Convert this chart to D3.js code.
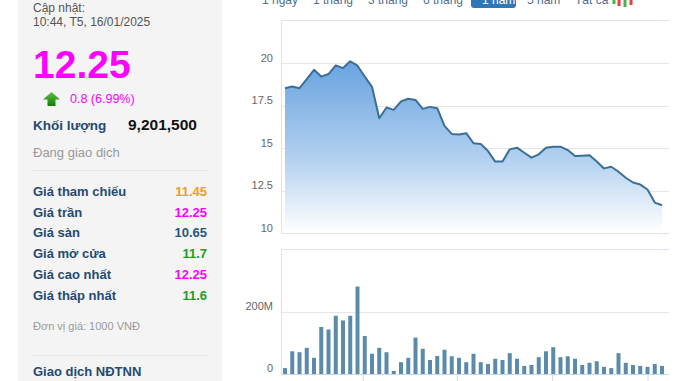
<!DOCTYPE html>
<html>
<head>
<meta charset="utf-8">
<script src="https://cdn.jsdelivr.net/npm/d3@7"></script>
<style>
    body { margin: 0; background: #fff; font-family: Arial, "Liberation Sans", sans-serif; }
    svg { display: block; }
</style>
</head>
<body>
<div id="chart"></div>
<script>
// weekly close price (1000 VND) and weekly volume (millions of shares), one year
const firstWeek = "2024-01-17";
const closePrices = [
    18.52, 18.62, 18.52, 19.05, 19.6, 19.2, 19.35, 19.86, 19.7, 20.1,
    19.84, 19.2, 18.6, 16.75, 17.38, 17.24, 17.74, 17.9, 17.83, 17.3,
    17.42, 17.34, 16.3, 15.83, 15.8, 15.87, 15.28, 15.24, 14.82, 14.2,
    14.2, 14.92, 15.02, 14.72, 14.43, 14.63, 15.02, 15.08, 15.08, 14.88,
    14.53, 14.55, 14.57, 14.2, 13.8, 13.9, 13.6, 13.25, 12.97, 12.85,
    12.56, 11.79, 11.63
];
const volumes = [
    19, 73, 70, 84, 52, 151, 143, 187, 172, 187,
    281, 122, 65, 84, 70, 10, 38, 52, 117, 81,
    45, 58, 78, 57, 52, 38, 65, 38, 32, 49,
    45, 67, 49, 26, 29, 54, 73, 86, 54, 57,
    49, 29, 36, 41, 23, 19, 67, 36, 29, 26,
    23, 32, 26
];
const priceTicks = [10, 12.5, 15, 17.5, 20];
const volumeTicks = [0, 200];
const quarterTicks = ["2024-04-01", "2024-07-01", "2024-10-01", "2025-01-01"];
const rangeTabs = ["1 ngày", "1 tháng", "3 tháng", "6 tháng", "1 năm", "5 năm", "Tất cả"];
const activeTab = "1 năm";

// quote panel
const updateLabel = "Cập nhật:";
const updateTime = "10:44, T5, 16/01/2025";
const lastPrice = "12.25";
const priceChange = "0.8 (6.99%)";
const volumeLabel = "Khối lượng";
const totalVolume = "9,201,500";
const statusText = "Đang giao dịch";
const quoteLabels = ["Giá tham chiếu", "Giá trần", "Giá sàn", "Giá mở cửa", "Giá cao nhất", "Giá thấp nhất"];
const quoteValues = ["11.45", "12.25", "10.65", "11.7", "12.25", "11.6"];
const quoteColors = ["#f39a24", "#ff00ff", "#1d5a80", "#1f9e1a", "#ff00ff", "#1f9e1a"];
const unitText = "Đơn vị giá: 1000 VNĐ";
const foreignText = "Giao dịch NĐTNN";

const width = 678, height = 381;
const labelColor = "#254a72";

const svg = d3.select("#chart").append("svg")
    .attr("width", width)
    .attr("height", height);

const defs = svg.append("defs");

// ---------- left quote panel ----------
const panel = svg.append("g").attr("class", "quote-panel");

panel.append("rect")
    .attr("x", 18).attr("y", 0)
    .attr("width", 204).attr("height", height)
    .attr("fill", "#f4f4f4");

panel.append("text")
    .attr("x", 33).attr("y", 11.5)
    .attr("font-size", 12).attr("fill", "#555")
    .text(updateLabel);

panel.append("text")
    .attr("x", 33).attr("y", 26)
    .attr("font-size", 12).attr("fill", "#555")
    .text(updateTime);

panel.append("text")
    .attr("x", 33).attr("y", 78)
    .attr("font-size", 39).attr("font-weight", "bold").attr("fill", "#ff00ff")
    .text(lastPrice);

// green up arrow
const arrowGrad = defs.append("linearGradient")
    .attr("id", "arrow-grad")
    .attr("x1", 0).attr("y1", 0).attr("x2", 0).attr("y2", 1);
arrowGrad.append("stop").attr("offset", "0%").attr("stop-color", "#5cc23a");
arrowGrad.append("stop").attr("offset", "100%").attr("stop-color", "#167a0c");

panel.append("path")
    .attr("d", "M51.5,92 L60,99.5 L55.5,99.5 L55.5,106 L47.5,106 L47.5,99.5 L43,99.5 Z")
    .attr("fill", "url(#arrow-grad)");

panel.append("text")
    .attr("x", 70).attr("y", 102.5)
    .attr("font-size", 12.5).attr("fill", "#ff00ff")
    .text(priceChange);

panel.append("text")
    .attr("x", 33).attr("y", 130)
    .attr("font-size", 13.5).attr("font-weight", "bold").attr("fill", labelColor)
    .text(volumeLabel);

panel.append("text")
    .attr("x", 128).attr("y", 130)
    .attr("font-size", 15.5).attr("font-weight", "bold").attr("fill", "#111")
    .text(totalVolume);

panel.append("text")
    .attr("x", 33).attr("y", 157)
    .attr("font-size", 13).attr("fill", "#999")
    .text(statusText);

panel.append("line")
    .attr("x1", 33).attr("x2", 208)
    .attr("y1", 170.5).attr("y2", 170.5)
    .attr("stroke", "#e6e6e6");

const rows = panel.selectAll(".quote-row")
    .data(quoteLabels)
    .enter()
    .append("g")
    .attr("class", "quote-row")
    .attr("transform", (d, i) => `translate(0,${195.7 + i * 20.85})`);

rows.append("text")
    .attr("x", 33)
    .attr("font-size", 13).attr("font-weight", "bold").attr("fill", labelColor)
    .text(d => d);

rows.append("text")
    .attr("x", 207)
    .attr("text-anchor", "end")
    .attr("font-size", 13).attr("font-weight", "bold")
    .attr("fill", (d, i) => quoteColors[i])
    .text((d, i) => quoteValues[i]);

panel.append("text")
    .attr("x", 33).attr("y", 330)
    .attr("font-size", 11).attr("fill", "#999")
    .text(unitText);

panel.append("line")
    .attr("x1", 33).attr("x2", 208)
    .attr("y1", 355.5).attr("y2", 355.5)
    .attr("stroke", "#e6e6e6");

panel.append("text")
    .attr("x", 33).attr("y", 376)
    .attr("font-size", 13).attr("font-weight", "bold").attr("fill", labelColor)
    .text(foreignText);

// ---------- range tabs (cut off at top) ----------
const tabX = [262, 313, 368, 423, 482, 527, 575];
const tabs = svg.append("g").attr("class", "tabs");

tabs.append("rect")
    .attr("x", 471).attr("y", -6)
    .attr("width", 45).attr("height", 14)
    .attr("rx", 3)
    .attr("fill", "#2f78b8");

tabs.selectAll("text")
    .data(rangeTabs)
    .enter()
    .append("text")
    .attr("x", (d, i) => tabX[i])
    .attr("y", 4)
    .attr("font-size", 12)
    .attr("fill", d => d === activeTab ? "#fff" : "#4f6f90")
    .text(d => d);

// tiny candlestick icon
const candles = [
    { x: 614, top: -2, bottom: 4, color: "#4caf50" },
    { x: 619, top: 0, bottom: 6, color: "#e0463c" },
    { x: 625, top: -1, bottom: 7, color: "#4caf50" },
    { x: 631, top: -2, bottom: 5, color: "#e0463c" }
];
tabs.selectAll(".candle")
    .data(candles)
    .enter()
    .append("rect")
    .attr("class", "candle")
    .attr("x", d => d.x - 1.5)
    .attr("y", d => d.top)
    .attr("width", 3)
    .attr("height", d => d.bottom - d.top)
    .attr("fill", d => d.color);

// ---------- shared x scale ----------
const parseDate = d3.timeParse("%Y-%m-%d");
const start = parseDate(firstWeek);
const dates = closePrices.map((d, i) => d3.timeWeek.offset(start, i));

const plotLeft = 281, plotRight = 669;

const x = d3.scaleTime()
    .domain([dates[0], dates[dates.length - 1]])
    .range([285, 662]);

// ---------- price panel ----------
const priceTop = 20.5, priceBottom = 233;
const y = d3.scaleLinear()
    .domain([10, 22.5])
    .range([priceBottom, priceTop]);

const price = svg.append("g").attr("class", "price-panel");

price.append("g")
    .attr("class", "grid")
    .selectAll("line")
    .data(priceTicks.filter(d => d > 10))
    .enter()
    .append("line")
    .attr("x1", plotLeft).attr("x2", plotRight)
    .attr("y1", d => Math.round(y(d)) + 0.5)
    .attr("y2", d => Math.round(y(d)) + 0.5)
    .attr("stroke", "#e6e6e6");

const areaGrad = defs.append("linearGradient")
    .attr("id", "area-grad")
    .attr("gradientUnits", "userSpaceOnUse")
    .attr("x1", 0).attr("y1", y(20)).attr("x2", 0).attr("y2", priceBottom);
areaGrad.append("stop").attr("offset", "0%").attr("stop-color", "#6aa4e0");
areaGrad.append("stop").attr("offset", "55%").attr("stop-color", "#b0cfef");
areaGrad.append("stop").attr("offset", "100%").attr("stop-color", "#ffffff");

const area = d3.area()
    .x((d, i) => x(dates[i]))
    .y0(priceBottom)
    .y1(d => y(d));

const line = d3.line()
    .x((d, i) => x(dates[i]))
    .y(d => y(d));

price.append("path")
    .datum(closePrices)
    .attr("d", area)
    .attr("fill", "url(#area-grad)");

price.append("path")
    .datum(closePrices)
    .attr("d", line)
    .attr("fill", "none")
    .attr("stroke", "#3c6f97")
    .attr("stroke-width", 2)
    .attr("stroke-linejoin", "round");

// frame
price.append("path")
    .attr("d", `M${plotRight},${priceTop} H${plotLeft + 0.5} V${priceBottom + 0.5} H${plotRight}`)
    .attr("fill", "none")
    .attr("stroke", "#dde3ec");

price.append("g")
    .selectAll("text")
    .data(priceTicks)
    .enter()
    .append("text")
    .attr("x", 273)
    .attr("y", d => y(d) - 1.5)
    .attr("text-anchor", "end")
    .attr("font-size", 11)
    .attr("fill", "#666")
    .text(d => d);

// ---------- volume panel ----------
const volTop = 249.5, volBottom = 374;
const yVol = d3.scaleLinear()
    .domain([0, 400])
    .range([volBottom, volTop]);

const vol = svg.append("g").attr("class", "volume-panel");

vol.append("line")
    .attr("x1", plotLeft).attr("x2", plotRight)
    .attr("y1", Math.round(yVol(200)) + 0.5)
    .attr("y2", Math.round(yVol(200)) + 0.5)
    .attr("stroke", "#e6e6e6");

vol.append("path")
    .attr("d", `M${plotRight},${volTop} H${plotLeft + 0.5} V${volBottom}`)
    .attr("fill", "none")
    .attr("stroke", "#dde3ec");

vol.selectAll(".bar")
    .data(volumes)
    .enter()
    .append("rect")
    .attr("class", "bar")
    .attr("x", (d, i) => x(dates[i]) - 2)
    .attr("y", d => yVol(d))
    .attr("width", 4)
    .attr("height", d => volBottom - yVol(d))
    .attr("fill", "#5b8bab");

const xAxis = d3.axisBottom(x)
    .tickValues(quarterTicks.map(parseDate))
    .tickSize(10)
    .tickFormat("");

vol.append("g")
    .attr("class", "x-axis")
    .attr("transform", `translate(0,${volBottom})`)
    .call(xAxis)
    .call(g => g.select(".domain").attr("stroke", "#ccd6eb").attr("d", `M${plotLeft},0.5H${plotRight}`))
    .call(g => g.selectAll(".tick line").attr("stroke", "#ccd6eb"));

vol.append("g")
    .selectAll("text")
    .data(volumeTicks)
    .enter()
    .append("text")
    .attr("x", 273)
    .attr("y", d => yVol(d) - 2)
    .attr("text-anchor", "end")
    .attr("font-size", 11)
    .attr("fill", "#666")
    .text(d => d === 0 ? "0" : d + "M");
</script>
</body>
</html>
